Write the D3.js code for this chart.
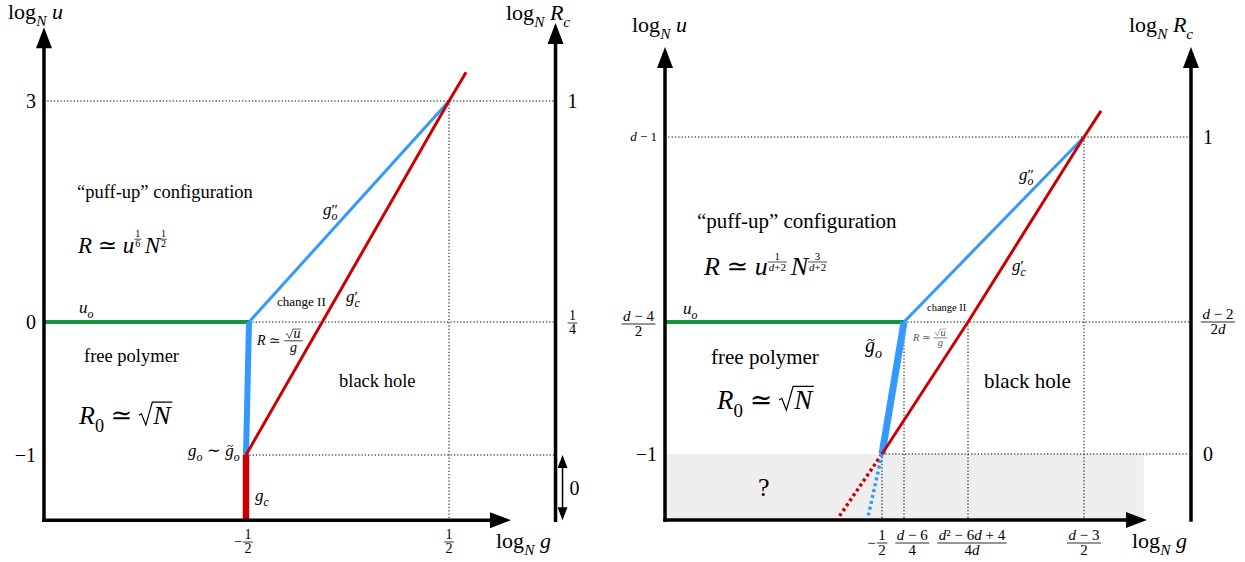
<!DOCTYPE html>
<meta charset="utf-8">
<style>
body { margin: 0; background: #fff; }
text { white-space: pre; font-family: "Liberation Serif", "DejaVu Serif", serif; }
.dot { fill: none; stroke: #000; stroke-width: 1; stroke-dasharray: 1.3,2; }
</style>
<body>
<script src="https://cdn.jsdelivr.net/npm/d3@7"></script>
<script>
// ---------- data: left panel (d = 3) ----------
var gTicksL = [-0.5, 0.5];
var gLabelsL = [{neg: true, num: "1", den: "2"}, {num: "1", den: "2"}];
var uTicksL = [-1, 0, 3];
var uLabelsL = ["−1", "0", "3"];
var rcTicksL = [0, 3];
var rcLabelsL = [{num: "1", den: "4"}, {t: "1"}];
var rcZeroL = [-1, -1.49];            // band of log R_c = 0
var greenL = [[-1.515, 0], [-0.495, 0]];
var blueThinL = [[-0.495, 0], [0.5, 3]];
var blueThickL = [[-0.495, 0], [-0.51, -1]];
var redL = [[-0.51, -1], [0.5, 3], [0.585, 3.39]];
var redThickL = [[-0.51, -1], [-0.51, -1.49]];

// ---------- data: right panel (general d), abscissa/ordinate as tick index ----------
var gTicksR = [0, 1, 2, 3];
var gLabelsR = [{neg: true, num: "1", den: "2"}, {num: "d − 6", den: "4"},
                {num: "d² − 6d + 4", den: "4d"}, {num: "d − 3", den: "2"}];
var uTicksR = [0, 1, 2];
var uLabelsR = [{t: "−1"}, {num: "d − 4", den: "2"}, {t: "d − 1", small: true}];
var rcLabelsR = [{t: "0"}, {num: "d − 2", den: "2d"}, {t: "1"}];
var greenR = [[-1, 1], [1, 1]];
var blueThinR = [[1, 1], [3, 2]];
var blueThickR = [[1, 1], [0, 0]];
var redR = [[0, 0], [2, 1], [3, 2], [3.27, 2.29]];
var redDotR = [[0, 0], [-0.2, -0.48]];
var blueDotR = [[0, 0], [-0.065, -0.48]];
var unknownR = [[-1, -0.5], [3.95, 0]];

var BLUE = "#3399ff", RED = "#cc0000", GREEN = "#14963a";

var svg = d3.select("body").append("svg")
    .attr("width", 1245).attr("height", 562);
svg.append("rect").attr("width", 1245).attr("height", 562).attr("fill", "#fff");

// scales: left panel is in real units, right panel in tick-index units
var L = {
  x: d3.scaleLinear().domain([-0.5, 0.5]).range([248, 449]),
  y: d3.scaleLinear().domain([-1, 0, 3]).range([455, 322, 101]),
  x0: -1.515, x1: 0.808, xr: 1.03, y0: -1.49, yTop: 4.0, yTopR: 4.06
};
var R = {
  x: d3.scaleLinear().domain([-1, 0, 1, 2, 3, 4, 4.7]).range([665, 882, 904, 968, 1084, 1147, 1191]),
  y: d3.scaleLinear().domain([-0.5, 0, 1, 2, 3]).range([520, 454, 322, 137, 47]),
  x0: -1, x1: 4, xr: 4.7, y0: -0.5, yTop: 3, yTopR: 3
};

// ---------- little math typesetting helpers ----------
function m(str) {
  return str.match(/[A-Za-z]+|[^A-Za-z]+/g).map(function(p) {
    return /[A-Za-z]/.test(p) ? [p, "i"] : [p];
  });
}

function rich(g, x, y, s, segs, anchor) {
  var t = g.append("text").attr("x", x).attr("y", y).attr("font-size", s)
      .attr("text-anchor", anchor || "start");
  var shift = 0;
  segs.forEach(function(sg) {
    if (typeof sg === "string") sg = [sg];
    var f = sg[1] || "", small = /[bp]/.test(f);
    var off = f.indexOf("b") >= 0 ? s * 0.3 : f.indexOf("p") >= 0 ? -s * 0.42 : 0;
    t.append("tspan").attr("dy", off - shift).attr("font-size", small ? s * 0.7 : s)
      .attr("font-style", f.indexOf("i") >= 0 ? "italic" : null).text(sg[0]);
    shift = off;
  });
  return t;
}

function row(g, x, y, s, items) {
  var cx = x;
  items.forEach(function(it) {
    if (typeof it === "string") it = m(it);
    if (Array.isArray(it)) cx += rich(g, cx, y, s, it).node().getComputedTextLength();
    else if (it.gap != null) cx += it.gap * s;
    else if (it.frac) cx += frac(g, cx, y, s, it);
    else if (it.sqrt) cx += sqrt(g, cx, y, s, it);
    else if (it.ss) cx += supsub(g, cx, y, s, it);
    else if (it.tilde) cx += tilde(g, cx, y, s, it);
  });
  return cx - x;
}

function frac(g, x, y, s, it) {
  var fs = (it.k || 1) * s, ybar = y - (it.raise || 0) * s;
  var gn = g.append("g"), gd = g.append("g");
  var wn = row(gn, 0, 0, fs, [].concat(it.frac[0])), wd = row(gd, 0, 0, fs, [].concat(it.frac[1]));
  var w = Math.max(wn, wd) + fs * 0.2;
  gn.attr("transform", "translate(" + (x + (w - wn) / 2) + "," + (ybar - fs * 0.22) + ")");
  gd.attr("transform", "translate(" + (x + (w - wd) / 2) + "," + (ybar + fs * 0.78) + ")");
  g.append("line").attr("x1", x).attr("x2", x + w).attr("y1", ybar).attr("y2", ybar)
    .attr("stroke", "currentColor").attr("stroke-width", Math.max(0.7, fs * 0.055));
  return w + fs * 0.1;
}

function sqrt(g, x, y, s, it) {
  var gi = g.append("g");
  var wi = row(gi, 0, 0, s, [].concat(it.sqrt));
  var rw = s * 0.52, h = (it.h || 0.8) * s;
  gi.attr("transform", "translate(" + (x + rw + s * 0.04) + "," + y + ")");
  g.append("path")
    .attr("d", "M" + x + "," + (y - h * 0.4) + "L" + (x + s * 0.1) + "," + (y - h * 0.47) +
      "L" + (x + s * 0.27) + "," + (y + s * 0.04) + "L" + (x + rw) + "," + (y - h) +
      "H" + (x + rw + wi + s * 0.1))
    .attr("fill", "none").attr("stroke", "currentColor").attr("stroke-width", s * 0.045);
  return rw + wi + s * 0.1;
}

// base letter with prime(s) above and subscript below, stacked like g''_o (one text element)
function supsub(g, x, y, s, it) {
  var t = g.append("text").attr("x", x).attr("y", y).attr("font-size", s);
  t.append("tspan").attr("font-style", "italic").text(it.base);
  var p = t.append("tspan").attr("dy", -s * 0.02).attr("font-size", s * 0.9).text(it.ss[0]);
  var pw = p.node().getComputedTextLength();
  var b = t.append("tspan").attr("dx", -pw).attr("dy", s * 0.3).attr("font-size", s * 0.7)
    .attr("font-style", "italic").text(it.ss[1]);
  var bw = b.node().getComputedTextLength();
  return t.node().getComputedTextLength() + Math.max(0, pw - bw);
}

function tilde(g, x, y, s, it) {
  var w = rich(g, x, y, s, [[it.tilde, "i"]]).node().getComputedTextLength();
  var cx = x + w * 0.6, yt = y - s * 0.6, a = s * 0.17, b = s * 0.05;
  g.append("path")
    .attr("d", "M" + (cx - a) + "," + (yt + b) + "Q" + (cx - a / 2) + "," + (yt - 2 * b) + " " + cx + "," + yt +
      "T" + (cx + a) + "," + (yt - b))
    .attr("fill", "none").attr("stroke", "currentColor").attr("stroke-width", s * 0.05);
  return w;
}

function place(g, x, y, s, items, anchor) {
  var sub = g.append("g");
  var w = row(sub, 0, 0, s, items);
  var dx = anchor === "end" ? -w : anchor === "middle" ? -w / 2 : 0;
  sub.attr("transform", "translate(" + (x + dx) + "," + y + ")");
  return sub;
}

function label(g, x, y, s, str) {
  return g.append("text").attr("x", x).attr("y", y).attr("font-size", s).text(str);
}

// ---------- panel drawing ----------
function vArrow(g, x, yb, yt) {
  g.append("line").attr("x1", x).attr("x2", x).attr("y1", yb + 1.75).attr("y2", yt + 16)
    .attr("stroke", "#000").attr("stroke-width", 3.5);
  g.append("path").attr("d", "M" + x + "," + yt + "L" + (x - 8) + "," + (yt + 21) + "L" + (x + 8) + "," + (yt + 21) + "Z");
}
function hArrow(g, xa, y, xb) {
  g.append("line").attr("x1", xa - 1.75).attr("x2", xb - 16).attr("y1", y).attr("y2", y)
    .attr("stroke", "#000").attr("stroke-width", 3.5);
  g.append("path").attr("d", "M" + xb + "," + y + "L" + (xb - 21) + "," + (y - 8) + "L" + (xb - 21) + "," + (y + 8) + "Z");
}

function drawPanel(P, grid, series) {
  var g = svg.append("g");
  var line = d3.line().x(function(p) { return P.x(p[0]); }).y(function(p) { return P.y(p[1]); });
  grid.forEach(function(seg) { g.append("path").attr("class", "dot").attr("d", line(seg)); });
  series.forEach(function(sr) {
    g.append("path").attr("d", line(sr.pts)).attr("fill", "none")
      .attr("stroke", sr.c).attr("stroke-width", sr.w)
      .attr("stroke-dasharray", sr.dash || null);
  });
  var xa = P.x(P.x0), yb = P.y(P.y0);
  vArrow(g, xa, yb, P.y(P.yTop));
  vArrow(g, P.x(P.xr), yb, P.y(P.yTopR));
  hArrow(g, xa, yb, P.x(P.x1));
  return g;
}

function xTickLabels(g, P, ticks, labels, s, ybar) {
  var prevEnd = -Infinity;
  ticks.forEach(function(v, i) {
    var lb = labels[i];
    var sub = g.append("g");
    var w = row(sub, 0, 0, s, [{frac: [lb.num, lb.den]}]) - s * 0.1;
    var start = Math.max(P.x(v) - w / 2, prevEnd + 8);
    sub.attr("transform", "translate(" + start + "," + ybar + ")");
    if (lb.neg) g.append("text").attr("x", start - 1).attr("y", ybar + s * 0.3)
      .attr("font-size", s).attr("text-anchor", "end").text("−");
    prevEnd = start + w;
  });
}

// ---------- left panel ----------
var unknown = svg.append("g");
unknown.append("rect")
  .attr("x", R.x(unknownR[0][0])).attr("y", R.y(unknownR[1][1]))
  .attr("width", R.x(unknownR[1][0]) - R.x(unknownR[0][0]))
  .attr("height", R.y(unknownR[0][1]) - R.y(unknownR[1][1]))
  .attr("fill", "#eeeeee");

var gl = drawPanel(L,
  [[[L.x0, uTicksL[2]], [L.xr, uTicksL[2]]],
   [greenL[1], [L.xr, uTicksL[1]]],
   [redL[0], [L.xr, uTicksL[0]]],
   [[gTicksL[1], uTicksL[2]], [gTicksL[1], L.y0]]],
  [{pts: greenL, c: GREEN, w: 4},
   {pts: blueThinL, c: BLUE, w: 3},
   {pts: blueThickL, c: BLUE, w: 6},
   {pts: redL, c: RED, w: 3},
   {pts: redThickL, c: RED, w: 6.5}]);

uTicksL.forEach(function(v, i) {
  gl.append("text").attr("x", L.x(L.x0) - 8).attr("y", L.y(v) + 7).attr("font-size", 20)
    .attr("text-anchor", "end").text(uLabelsL[i]);
});
rcTicksL.forEach(function(v, i) {
  var lb = rcLabelsL[i], x = L.x(L.xr) + 12;
  if (lb.t) label(gl, x, L.y(v) + 7, 20, lb.t);
  else place(gl, x, L.y(v) + 1, 14, [{frac: [lb.num, lb.den]}]);
});
(function() {
  var x = L.x(L.xr) + 7, ya = L.y(rcZeroL[0]), yb = L.y(rcZeroL[1]);
  gl.append("line").attr("x1", x).attr("x2", x).attr("y1", ya + 8).attr("y2", yb - 8)
    .attr("stroke", "#000").attr("stroke-width", 1.5);
  gl.append("path").attr("d", "M" + x + "," + ya + "l-5,13h10Z");
  gl.append("path").attr("d", "M" + x + "," + yb + "l-5,-13h10Z");
  label(gl, x + 7, (ya + yb) / 2 + 7, 20, "0");
})();
xTickLabels(gl, L, gTicksL, gLabelsL, 14, 542);

place(gl, 8, 19, 22, [[["log"], ["N", "ib"], [" u", "i"]]]);
place(gl, 506, 20, 22, [[["log"], ["N", "ib"], [" R", "i"], ["c", "ib"]]]);
place(gl, 496, 548, 22, [[["log"], ["N", "ib"], [" g", "i"]]]);
label(gl, 77, 198, 18.5, "“puff-up” configuration");
place(gl, 78, 253, 23, [[["R", "i"], [" ≃ "], ["u", "i"]], {frac: ["1", "6"], k: 0.44, raise: 0.6},
  {gap: 0.1}, "N", {frac: ["1", "2"], k: 0.44, raise: 0.6}]);
place(gl, 323, 215, 17, [{base: "g", ss: ["″", "o"]}]);
label(gl, 277, 306, 13, "change II");
place(gl, 346, 302, 17, [{base: "g", ss: ["′", "c"]}]);
place(gl, 79, 313, 17, [[["u", "i"], ["o", "ib"]]]);
place(gl, 257, 345, 14, [[["R", "i"], [" ≃ "]], {frac: [[{sqrt: "u", h: 0.62}], "g"], raise: 0.3}]);
label(gl, 84, 362, 18.5, "free polymer");
label(gl, 339, 387, 18.5, "black hole");
place(gl, 79, 424, 26, [[["R", "i"], ["0", "b"], [" ≃ "]], {sqrt: "N", h: 0.84}]);
place(gl, 188, 456, 17, [[["g", "i"], ["o", "ib"], [" ∼ "]], {tilde: "g"}, [["o", "ib"]]]);
place(gl, 255, 501, 17, [[["g", "i"], ["c", "ib"]]]);

// ---------- right panel ----------
var gr = drawPanel(R,
  [[[R.x0, uTicksR[2]], [R.xr, uTicksR[2]]],
   [greenR[1], [R.xr, uTicksR[1]]],
   [redR[0], [R.xr, uTicksR[0]]],
   [[gTicksR[0], uTicksR[0]], [gTicksR[0], R.y0]],
   [[gTicksR[1], uTicksR[1]], [gTicksR[1], R.y0]],
   [[gTicksR[2], uTicksR[1]], [gTicksR[2], R.y0]],
   [[gTicksR[3], uTicksR[2]], [gTicksR[3], R.y0]]],
  [{pts: redDotR, c: RED, w: 3.5, dash: "3,3"},
   {pts: blueDotR, c: BLUE, w: 3.5, dash: "3,3"},
   {pts: greenR, c: GREEN, w: 4},
   {pts: blueThinR, c: BLUE, w: 3},
   {pts: blueThickR, c: BLUE, w: 7},
   {pts: redR, c: RED, w: 3}]);

uTicksR.forEach(function(v, i) {
  var lb = uLabelsR[i], x = R.x(R.x0) - 8;
  if (lb.num) place(gr, x, R.y(v) + 2, 15, [{frac: [lb.num, lb.den]}], "end");
  else if (lb.small) place(gr, x, R.y(v) + 4, 13, [lb.t], "end");
  else place(gr, x, R.y(v) + 7, 20, [lb.t], "end");
});
uTicksR.forEach(function(v, i) {
  var lb = rcLabelsR[i], x = R.x(R.xr) + 10;
  if (lb.num) place(gr, x, R.y(v), 15, [{frac: [lb.num, lb.den]}]);
  else label(gr, x + 2, R.y(v) + 7, 20, lb.t);
});
xTickLabels(gr, R, gTicksR, gLabelsR, 15, 543);

place(gr, 632, 32, 22, [[["log"], ["N", "ib"], [" u", "i"]]]);
place(gr, 1129, 32, 22, [[["log"], ["N", "ib"], [" R", "i"], ["c", "ib"]]]);
place(gr, 1132, 548, 22, [[["log"], ["N", "ib"], [" g", "i"]]]);
label(gr, 697, 228, 21, "“puff-up” configuration");
place(gr, 704, 275, 26, [[["R", "i"], [" ≃ "], ["u", "i"]], {frac: ["1", "d+2"], k: 0.42, raise: 0.5},
  {gap: 0.1}, "N", {frac: ["3", "d+2"], k: 0.42, raise: 0.5}]);
place(gr, 1019, 180, 17, [{base: "g", ss: ["″", "o"]}]);
place(gr, 1012, 271, 17, [{base: "g", ss: ["′", "c"]}]);
label(gr, 927, 311, 10.5, "change II");
place(gr, 683, 314, 17, [[["u", "i"], ["o", "ib"]]]);
place(gr, 913, 341, 10.5, [[["R", "i"], [" ≃ "]], {frac: [[{sqrt: "u", h: 0.62}], "g"], raise: 0.3}])
  .attr("fill", "#555").style("color", "#555");
place(gr, 865, 352, 20, [{tilde: "g"}, [["o", "ib"]]]);
label(gr, 711, 364, 21, "free polymer");
place(gr, 717, 409, 27, [[["R", "i"], ["0", "b"], [" ≃ "]], {sqrt: "N", h: 0.84}]);
label(gr, 984, 388, 21, "black hole");
label(gr, 758, 496, 26, "?");
</script>
